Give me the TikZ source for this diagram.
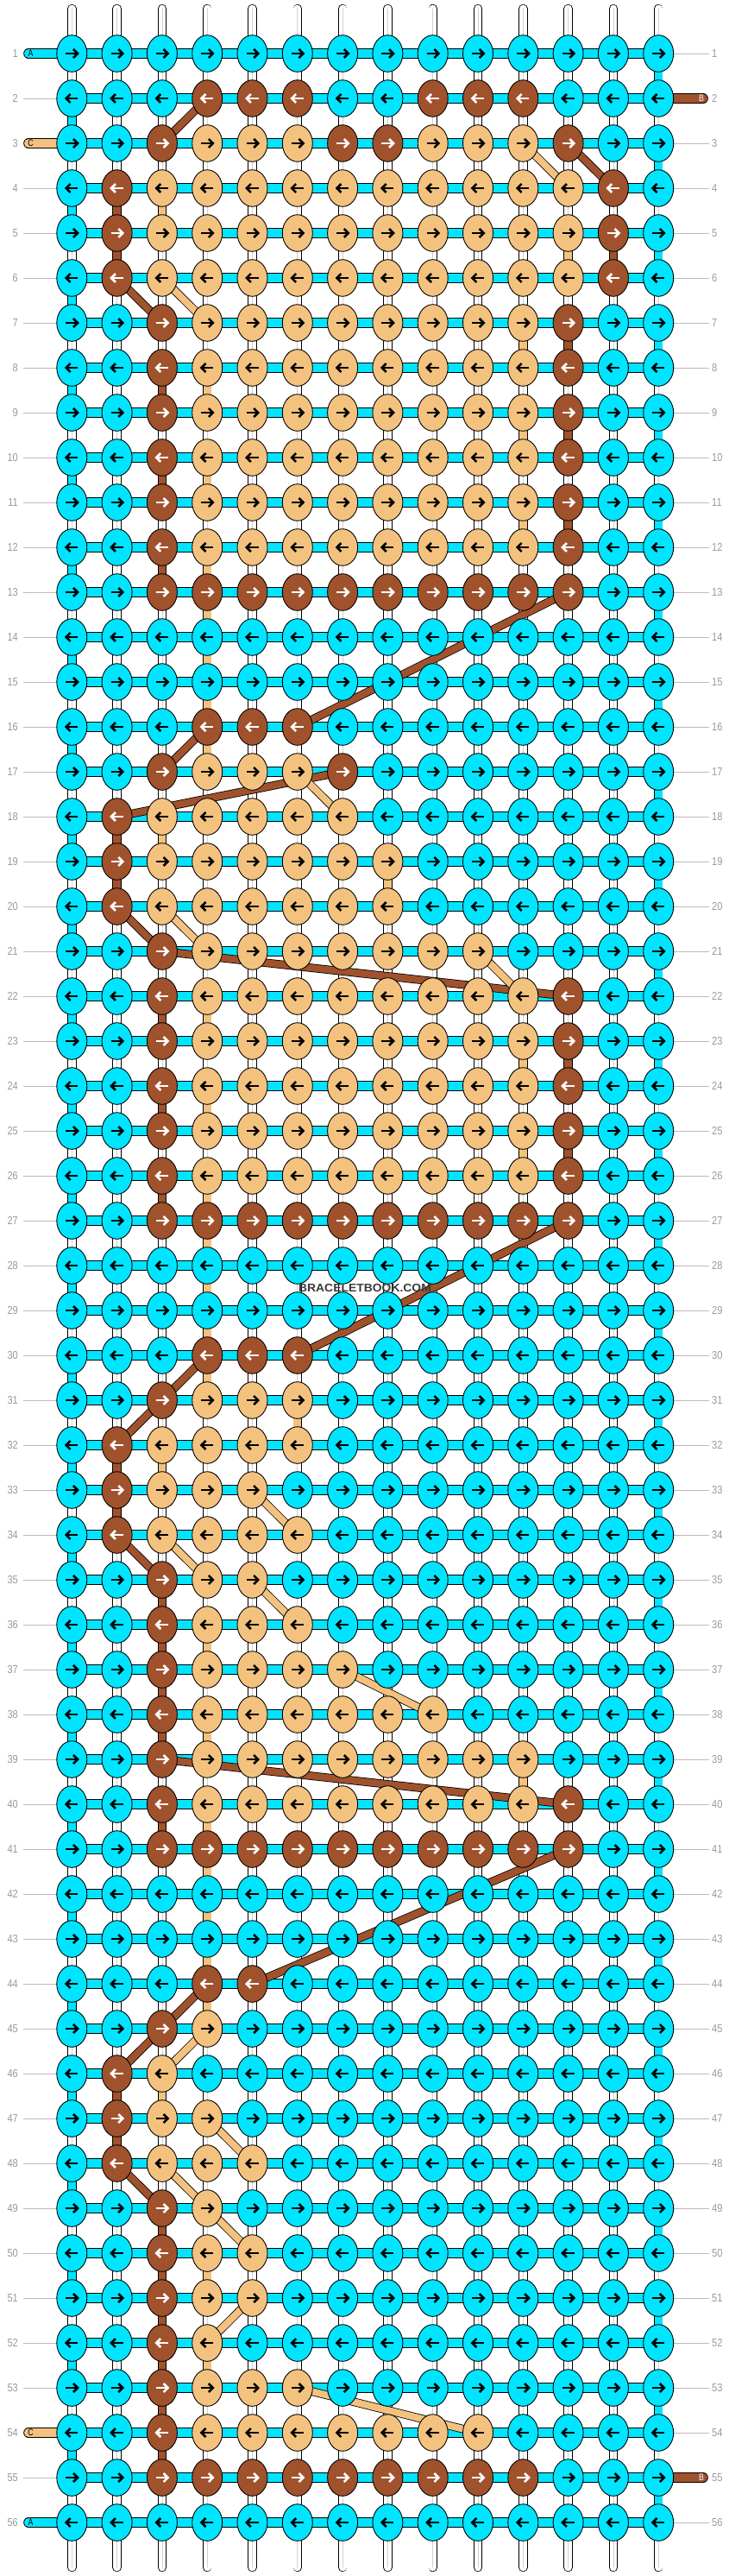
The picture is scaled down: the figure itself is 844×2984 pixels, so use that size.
\documentclass[tikz,border=0pt]{standalone}
\usepackage{fontspec}
\setmainfont{Liberation Sans}
\usetikzlibrary{arrows.meta,shapes.geometric}
\definecolor{kC}{HTML}{00E5FF}
\definecolor{kB}{HTML}{A0522D}
\definecolor{kT}{HTML}{F4C27F}
\colorlet{aC}{black}
\colorlet{aB}{white}
\colorlet{aT}{black}
\definecolor{lblgray}{HTML}{9A9A9A}
\definecolor{linegray}{HTML}{BBBBBB}
\definecolor{wmgray}{HTML}{3A3A3A}
\pgfdeclarelayer{bg}
\pgfsetlayers{bg,main}
\tikzset{
  knotbase/.style={ellipse, draw=black, line width=0.9, minimum width=35, minimum height=42.6, inner sep=0, outer sep=0},
  arr/.style={line width=2.6, -{Straight Barb[length=5,width=10]}},
  knotR/.style={knotbase, fill=k#1, path picture={\draw[arr, draw=a#1] ([xshift=-7]path picture bounding box.center) -- ([xshift=8.5]path picture bounding box.center);}},
  knotL/.style={knotbase, fill=k#1, path picture={\draw[arr, draw=a#1] ([xshift=7]path picture bounding box.center) -- ([xshift=-8.5]path picture bounding box.center);}},
  strand/.style={draw=black, line width=0.8, double=#1, double distance=8.8},
  hbar/.style={draw=black, line width=0.8, double=kC, double distance=10},
  stub/.style={draw=black, line width=0.8, double=#1, double distance=10, line cap=round},
  diag/.style={draw=black, line width=0.8, double=k#1, double distance=8},
  rowlbl/.style={text=lblgray, font=\fontsize{13}{13}\selectfont, inner sep=0},
  stublbl/.style={font=\fontsize{11}{11}\selectfont, inner sep=0},
  guide/.style={draw=linegray, line width=0.9},
}
\begin{document}
\begin{tikzpicture}[x=1pt,y=-1pt]
\useasboundingbox (0,0) rectangle (844,2984);
% knots
\foreach \r/\spec in {
1/{1/14/C},
2/{1/3/C,4/6/B,7/8/C,9/11/B,12/14/C},
3/{1/2/C,3/3/B,4/6/T,7/8/B,9/11/T,12/12/B,13/14/C},
4/{1/1/C,2/2/B,3/12/T,13/13/B,14/14/C},
5/{1/1/C,2/2/B,3/12/T,13/13/B,14/14/C},
6/{1/1/C,2/2/B,3/12/T,13/13/B,14/14/C},
7/{1/2/C,3/3/B,4/11/T,12/12/B,13/14/C},
8/{1/2/C,3/3/B,4/11/T,12/12/B,13/14/C},
9/{1/2/C,3/3/B,4/11/T,12/12/B,13/14/C},
10/{1/2/C,3/3/B,4/11/T,12/12/B,13/14/C},
11/{1/2/C,3/3/B,4/11/T,12/12/B,13/14/C},
12/{1/2/C,3/3/B,4/11/T,12/12/B,13/14/C},
13/{1/2/C,3/12/B,13/14/C},
14/{1/14/C},
15/{1/14/C},
16/{1/3/C,4/6/B,7/14/C},
17/{1/2/C,3/3/B,4/6/T,7/7/B,8/14/C},
18/{1/1/C,2/2/B,3/7/T,8/14/C},
19/{1/1/C,2/2/B,3/8/T,9/14/C},
20/{1/1/C,2/2/B,3/8/T,9/14/C},
21/{1/2/C,3/3/B,4/10/T,11/14/C},
22/{1/2/C,3/3/B,4/11/T,12/12/B,13/14/C},
23/{1/2/C,3/3/B,4/11/T,12/12/B,13/14/C},
24/{1/2/C,3/3/B,4/11/T,12/12/B,13/14/C},
25/{1/2/C,3/3/B,4/11/T,12/12/B,13/14/C},
26/{1/2/C,3/3/B,4/11/T,12/12/B,13/14/C},
27/{1/2/C,3/12/B,13/14/C},
28/{1/14/C},
29/{1/14/C},
30/{1/3/C,4/6/B,7/14/C},
31/{1/2/C,3/3/B,4/6/T,7/14/C},
32/{1/1/C,2/2/B,3/6/T,7/14/C},
33/{1/1/C,2/2/B,3/5/T,6/14/C},
34/{1/1/C,2/2/B,3/6/T,7/14/C},
35/{1/2/C,3/3/B,4/5/T,6/14/C},
36/{1/2/C,3/3/B,4/6/T,7/14/C},
37/{1/2/C,3/3/B,4/7/T,8/14/C},
38/{1/2/C,3/3/B,4/9/T,10/14/C},
39/{1/2/C,3/3/B,4/11/T,12/14/C},
40/{1/2/C,3/3/B,4/11/T,12/12/B,13/14/C},
41/{1/2/C,3/12/B,13/14/C},
42/{1/14/C},
43/{1/14/C},
44/{1/3/C,4/5/B,6/14/C},
45/{1/2/C,3/3/B,4/4/T,5/14/C},
46/{1/1/C,2/2/B,3/3/T,4/14/C},
47/{1/1/C,2/2/B,3/4/T,5/14/C},
48/{1/1/C,2/2/B,3/5/T,6/14/C},
49/{1/2/C,3/3/B,4/4/T,5/14/C},
50/{1/2/C,3/3/B,4/5/T,6/14/C},
51/{1/2/C,3/3/B,4/5/T,6/14/C},
52/{1/2/C,3/3/B,4/4/T,5/14/C},
53/{1/2/C,3/3/B,4/6/T,7/14/C},
54/{1/2/C,3/3/B,4/10/T,11/14/C},
55/{1/2/C,3/11/B,12/14/C},
56/{1/14/C}} {
  \pgfmathsetmacro\yy{62+(\r-1)*52}
  \foreach \a/\b/\k in \spec {
    \foreach \c in {\a,...,\b} {
      \pgfmathsetmacro\xx{83.3+(\c-1)*52.3}
      \ifodd\r\relax
        \node[knotR=\k] (k-\r-\c) at (\xx,\yy) {};
      \else
        \node[knotL=\k] (k-\r-\c) at (\xx,\yy) {};
      \fi
    }
  }
}
% row numbers
\foreach \r in {1,...,56} {
  \pgfmathsetmacro\yy{62+(\r-1)*52}
  \node[rowlbl, anchor=east] (ll-\r) at (21,\yy) {\scalebox{0.85}[1]{\r}};
  \node[rowlbl, anchor=west] (rl-\r) at (825,\yy) {\scalebox{0.85}[1]{\r}};
}
% string end letters
\node[stublbl, text=black] (tA1) at (35.5,62) {\scalebox{0.8}[1]{A}};
\node[stublbl, text=black] (tA2) at (35.5,2922) {\scalebox{0.8}[1]{A}};
\node[stublbl, text=black] (tC1) at (35.5,166) {\scalebox{0.8}[1]{C}};
\node[stublbl, text=black] (tC2) at (35.5,2818) {\scalebox{0.8}[1]{C}};
\node[stublbl, text=white] (tB1) at (813,114) {\scalebox{0.8}[1]{B}};
\node[stublbl, text=white] (tB2) at (813,2870) {\scalebox{0.8}[1]{B}};
% watermark
\node[font=\bfseries\fontsize{13}{13}\selectfont, text=wmgray, inner sep=0] (wm) at (423,1492) {\scalebox{1.07}[1]{BRACELETBOOK.COM}};

\begin{pgfonlayer}{bg}
\fill[white] (0,0) rectangle (844,2984);
% vertical base strings
\foreach \c in {1,...,14} {
  \pgfmathsetmacro\xx{83.3+(\c-1)*52.3}
  \coordinate (st-\c) at (\xx,10);
  \coordinate (sb-\c) at (\xx,2974);
  \draw[strand=white, line cap=round] (st-\c) -- (sb-\c);
  \draw[draw=black!18, line width=0.8] (st-\c) -- (sb-\c);
}
% horizontal bars
\foreach \r in {1,...,56} {
  \draw[hbar] (k-\r-1.center) -- (k-\r-14.center);
}
% guide lines
\foreach \r in {2,55,4,5,...,53} {
  \pgfmathsetmacro\yy{62+(\r-1)*52}
  \coordinate (gl-\r) at (27,\yy);
  \draw[guide] (gl-\r) -- (k-\r-1.west);
}
\foreach \r in {1,56,3,4,...,54} {
  \pgfmathsetmacro\yy{62+(\r-1)*52}
  \coordinate (gr-\r) at (822,\yy);
  \draw[guide] (k-\r-14.east) -- (gr-\r);
}
% string ends
\coordinate (eA1) at (33,62);
\coordinate (eA2) at (33,2922);
\coordinate (eC1) at (33,166);
\coordinate (eC2) at (33,2818);
\coordinate (eB1) at (815,114);
\coordinate (eB2) at (815,2870);
\draw[stub=kC] (eA1) -- (k-1-1.center);
\draw[stub=kC] (eA2) -- (k-56-1.center);
\draw[stub=kT] (eC1) -- (k-3-1.center);
\draw[stub=kT] (eC2) -- (k-54-1.center);
\draw[stub=kB] (k-2-14.center) -- (eB1);
\draw[stub=kB] (k-55-14.center) -- (eB2);
% edge turns of the cyan string
\foreach \r in {1,3,...,55} {
  \pgfmathtruncatemacro\rr{\r+1}
  \draw[strand=kC] (k-\r-14.center) -- (k-\rr-14.center);
}
\foreach \r in {2,4,...,54} {
  \pgfmathtruncatemacro\rr{\r+1}
  \draw[strand=kC] (k-\r-1.center) -- (k-\rr-1.center);
}
% coloured vertical segments
\foreach \r/\c/\k in {
4/2/B,4/3/T,5/2/B,5/12/T,5/13/B,7/11/T,7/12/B,8/3/B,8/4/T,9/11/T,9/12/B,
10/3/B,10/4/T,11/11/T,11/12/B,12/3/B,12/4/T,13/4/T,14/4/T,15/4/T,16/4/T,
18/2/B,18/3/T,19/2/B,19/8/T,22/3/B,22/4/T,23/11/T,23/12/B,24/3/B,24/4/T,
25/11/T,25/12/B,26/3/B,26/4/T,27/4/T,28/4/T,29/4/T,30/4/T,31/6/T,
32/2/B,32/3/T,33/2/B,35/3/B,36/3/B,36/4/T,37/3/B,38/3/B,38/4/T,39/11/T,
40/3/B,40/4/T,41/4/T,42/4/T,43/4/T,44/4/T,46/2/B,46/3/T,47/2/B,
49/3/B,50/3/B,50/4/T,51/3/B,52/3/B,52/4/T,53/3/B,54/3/B} {
  \pgfmathtruncatemacro\rr{\r+1}
  \draw[strand=k\k] (k-\r-\c.center) -- (k-\rr-\c.center);
}
% diagonal moves of the coloured strings
\foreach \ra/\ca/\rb/\cb/\k in {
2/4/3/3/B, 3/11/4/12/T, 3/12/4/13/B, 6/2/7/3/B, 6/3/7/4/T, 13/12/16/6/B,
16/4/17/3/B, 17/7/18/2/B, 17/6/18/7/T, 20/2/21/3/B, 20/3/21/4/T,
21/3/22/12/B, 21/10/22/11/T, 27/12/30/6/B, 30/4/31/3/B, 31/3/32/2/B,
33/5/34/6/T, 34/2/35/3/B, 34/3/35/4/T, 35/5/36/6/T, 37/7/38/9/T,
39/3/40/12/B, 41/12/44/5/B, 44/4/45/3/B, 45/3/46/2/B, 45/4/46/3/T,
47/4/48/5/T, 48/2/49/3/B, 48/3/49/4/T, 49/4/50/5/T, 51/5/52/4/T,
53/6/54/10/T} {
  \draw[diag=\k] (k-\ra-\ca.center) -- (k-\rb-\cb.center);
}
\end{pgfonlayer}
\end{tikzpicture}
\end{document}
